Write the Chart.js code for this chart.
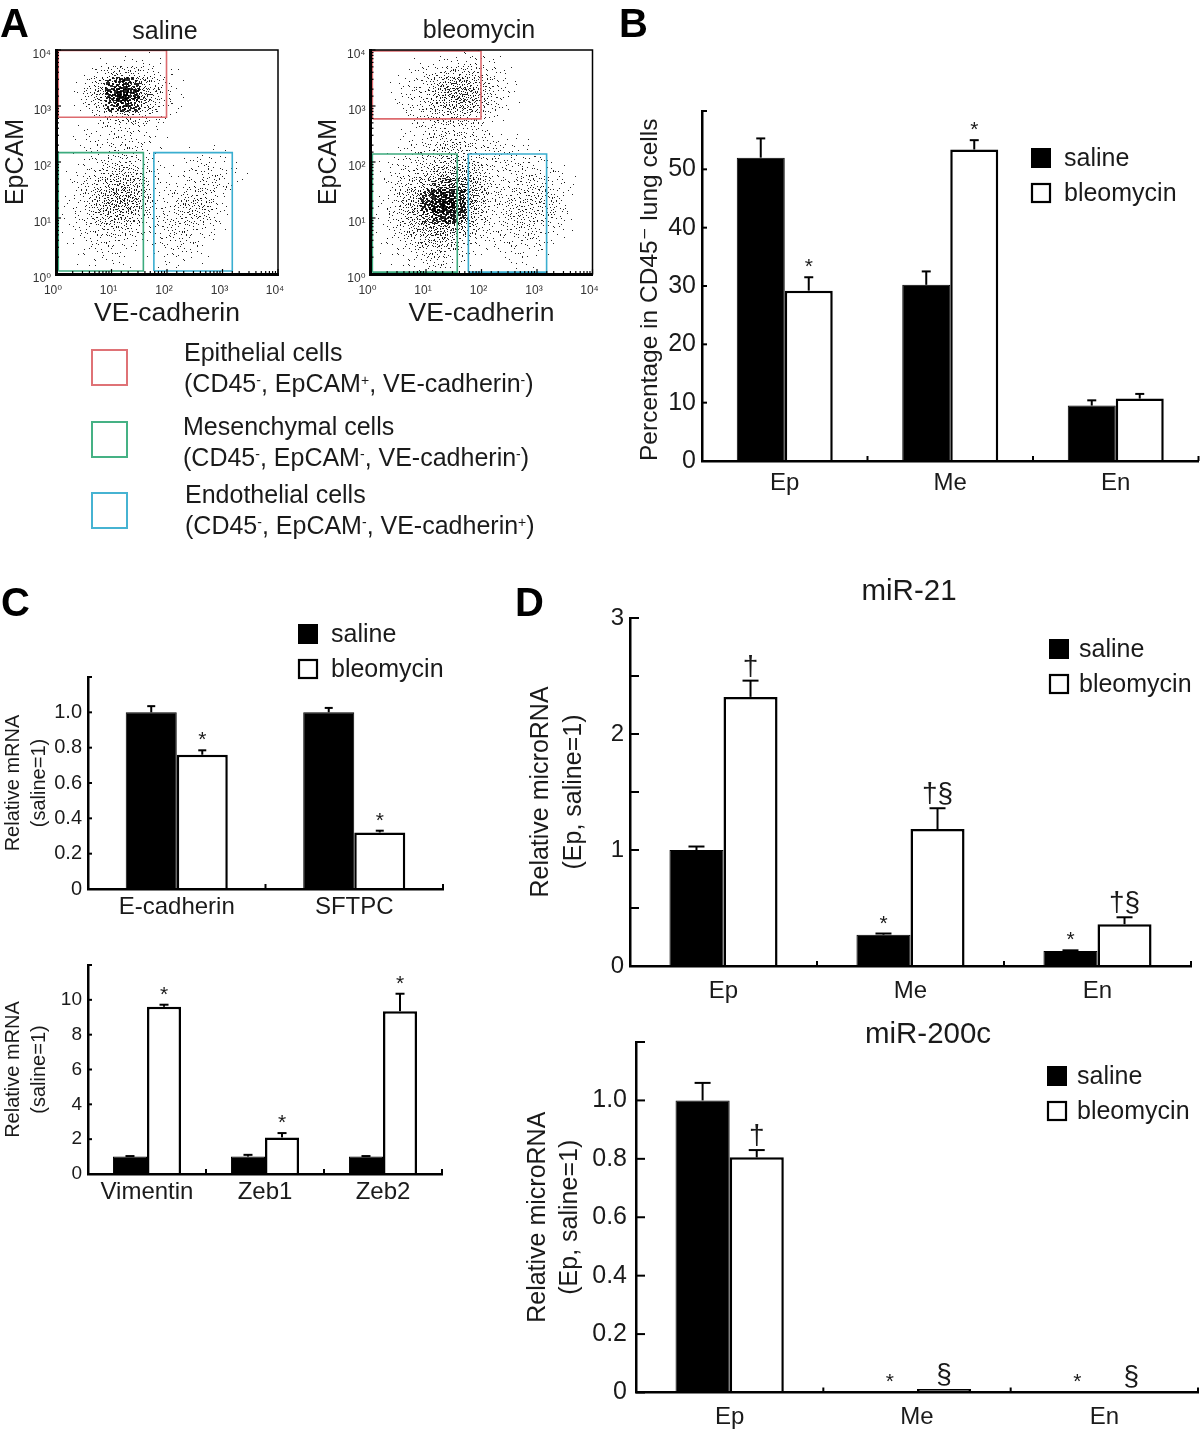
<!DOCTYPE html>
<html>
<head>
<meta charset="utf-8">
<script src="https://cdn.jsdelivr.net/npm/chart.js@4"></script>
<style>
  html, body { margin: 0; background: #fff; }
  #page { position: relative; width: 1200px; height: 1429px; overflow: hidden; font-family: "Liberation Sans", "DejaVu Sans", sans-serif; color: #1a1a1a; }
  canvas { position: absolute; left: 0; top: 0; }
  .letter { position: absolute; font-weight: bold; font-size: 40px; line-height: 40px; color: #000; }
  .cell { position: absolute; font-size: 25px; line-height: 31px; white-space: nowrap; }
  .cell sup { font-size: 14px; line-height: 0; vertical-align: 7px; }
  .gate { position: absolute; width: 33px; height: 33px; border: 2px solid; }
</style>
</head>
<body>
<div id="page">
  <canvas id="flowSaline" width="1200" height="1429"></canvas>
  <canvas id="flowBleomycin" width="1200" height="1429"></canvas>
  <canvas id="panelB" width="1200" height="1429"></canvas>
  <canvas id="panelC1" width="1200" height="1429"></canvas>
  <canvas id="panelC2" width="1200" height="1429"></canvas>
  <canvas id="panelD1" width="1200" height="1429"></canvas>
  <canvas id="panelD2" width="1200" height="1429"></canvas>

  <div class="letter" style="left:0;top:3px">A</div>
  <div class="letter" style="left:619px;top:3px">B</div>
  <div class="letter" style="left:1px;top:582px">C</div>
  <div class="letter" style="left:515px;top:582px">D</div>

  <div class="gate" style="left:91px;top:349px;border-color:#df7276"></div>
  <div class="cell" style="left:184px;top:337px">Epithelial cells<br>(CD45<sup>-</sup>, EpCAM<sup>+</sup>, VE-cadherin<sup>-</sup>)</div>
  <div class="gate" style="left:91px;top:421px;border-color:#45b184"></div>
  <div class="cell" style="left:183px;top:411px">Mesenchymal cells<br>(CD45<sup>-</sup>, EpCAM<sup>-</sup>, VE-cadherin<sup>-</sup>)</div>
  <div class="gate" style="left:91px;top:492px;border-color:#46b3d2"></div>
  <div class="cell" style="left:185px;top:479px">Endothelial cells<br>(CD45<sup>-</sup>, EpCAM<sup>-</sup>, VE-cadherin<sup>+</sup>)</div>
</div>

<script>
const FONT = '"Liberation Sans", "DejaVu Sans", sans-serif';
const INK = "#1a1a1a";

const seriesNames = ["saline", "bleomycin"];
const microCategories = ["Ep", "Me", "En"];

// panel B
const bSaline = [52, 30.2, 9.5];
const bBleomycin = [29.2, 53.4, 10.7];
const bSalineTop = [55.3, 32.5, 10.4];
const bBleomycinTop = [31.5, 55, 11.5];
const bSalineMarks = ["", "", ""];
const bBleomycinMarks = ["*", "*", ""];
const bYLabels = ["0", "10", "20", "30", "40", "50", ""];

// panel C, upper
const c1Categories = ["E-cadherin", "SFTPC"];
const c1Saline = [1, 1];
const c1Bleomycin = [0.76, 0.32];
const c1SalineTop = [1.035, 1.025];
const c1BleomycinTop = [0.785, 0.33];
const c1SalineMarks = ["", ""];
const c1BleomycinMarks = ["*", "*"];
const c1YLabels = ["0", "0.2", "0.4", "0.6", "0.8", "1.0", ""];

// panel C, lower
const c2Categories = ["Vimentin", "Zeb1", "Zeb2"];
const c2Saline = [1, 1, 1];
const c2Bleomycin = [9.6, 2.1, 9.35];
const c2SalineTop = [1.03, 1.1, 1.03];
const c2BleomycinTop = [9.72, 2.35, 10.35];
const c2SalineMarks = ["", "", ""];
const c2BleomycinMarks = ["*", "*", "*"];
const c2YLabels = ["0", "2", "4", "6", "8", "10", ""];

// panel D, miR-21
const d1Saline = [1, 0.27, 0.13];
const d1Bleomycin = [2.32, 1.18, 0.36];
const d1SalineTop = [1.03, 0.28, 0.135];
const d1BleomycinTop = [2.46, 1.36, 0.42];
const d1SalineMarks = ["", "*", "*"];
const d1BleomycinMarks = ["†", "†§", "†§"];
const d1YLabels = ["0", "", "1", "", "2", "", "3"];

// panel D, miR-200c
const d2Saline = [1, 0.002, 0.001];
const d2Bleomycin = [0.805, 0.012, 0.004];
const d2SalineTop = [1.06, 0.002, 0.001];
const d2BleomycinTop = [0.83, 0.012, 0.004];
const d2SalineMarks = ["", "*", "*"];
const d2BleomycinMarks = ["†", "§", "§"];
const d2YLabels = ["0", "0.2", "0.4", "0.6", "0.8", "1.0", ""];

// panel A: gates as [xMin, xMax, yMin, yMax]
const salineEpGate = [1.1, 98, 630, 9800];
const salineMeGate = [1.1, 37.5, 1.13, 147];
const salineEnGate = [58, 1500, 1.13, 147];
const bleoEpGate = [1.08, 98, 590, 9600];
const bleoMeGate = [1.08, 36.6, 1.08, 139];
const bleoEnGate = [58, 1490, 1.08, 139];

// panel A: cell density by eye, 0-9, on a 0.2-decade grid. First row is the
// top of the plot (10^3.8 to 10^4), first column starts at 10^0.
const salineDensity = [
  "00000000100000000000",
  "00001111110000000000",
  "00024664321000000000",
  "00247997531000000000",
  "00246997531000000000",
  "00013565321000000000",
  "00011221100000000000",
  "00112222100000000000",
  "00112222110000000000",
  "00112332100011100000",
  "00123443210122210000",
  "01234554210123321000",
  "01235665211233200000",
  "01246776212344200000",
  "01246664123454200000",
  "01234443123332100000",
  "01123321133221000000",
  "00112210112211000000",
  "00111110011110000000",
  "00001000001000000000",
];
const bleoDensity = [
  "00000000111000000000",
  "00001122232100000000",
  "00012345543210000000",
  "00123467754210000000",
  "00123467764210000000",
  "00012455543100000000",
  "00011233221000000000",
  "00012233321000000000",
  "00012334432211000000",
  "00122344433322100000",
  "01233455543122321000",
  "01234567653123332100",
  "01245788764223342100",
  "01357999763234443100",
  "01356899752234443100",
  "01346777641233332100",
  "01235665431223321000",
  "01123443211112210000",
  "00112332100011100000",
  "00011221000001000000",
];
const decadeLabels = ["10⁰", "10¹", "10²", "10³", "10⁴"];

// stipple used to show a density level, one offset per speck
const speckOffsets = [
  [17,3],[5,19],[11,8],[22,14],[2,6],[14,21],[8,1],[19,10],[0,16],[12,13],
  [6,9],[20,2],[3,22],[16,17],[9,5],[23,7],[1,11],[13,0],[7,15],[18,20],
  [10,23],[4,3],[21,18],[15,6],[2,18],[11,2],[19,14],[6,12],[14,9],[23,22],
  [0,4],[9,18],[17,7],[4,14],[12,20],[21,4],[7,0],[16,12],[3,8],[20,9],
  [13,16],[1,20],[18,1],[8,11],[22,19],[5,6],[15,23],[10,4],[19,17],[2,13],
  [12,6],[6,21],[23,11],[9,14],[16,3],[0,9],[14,18],[4,17],[21,21],[11,11],
];
const specksPerLevel = [0, 4, 8, 13, 20, 28, 38, 50, 60, 60];

function makeSprite(level, variant) {
  const sprite = document.createElement("canvas");
  sprite.width = 24;
  sprite.height = 24;
  const ctx = sprite.getContext("2d");
  ctx.fillStyle = "rgba(0,0,0,0.85)";
  for (const [a, b] of speckOffsets.slice(0, specksPerLevel[level])) {
    const p = variant & 4 ? b : a;
    const q = variant & 4 ? a : b;
    const x = variant & 1 ? 23 - p : p;
    const y = variant & 2 ? 23 - q : q;
    ctx.fillRect(x, y, level >= 8 ? 2 : 1, level === 9 ? 2 : 1);
  }
  return sprite;
}

const sprites = specksPerLevel.map((_, level) => [0, 1, 2, 3, 4, 5, 6, 7].map((v) => makeSprite(level, v)));

function densityPoints(rows) {
  const points = [];
  rows.forEach((row, r) => {
    [...row].forEach((digit, c) => {
      if (digit !== "0") {
        points.push({ x: 10 ** (c * 0.2 + 0.1), y: 10 ** (3.9 - r * 0.2), level: Number(digit), variant: (c * 3 + r * 5) % 8 });
      }
    });
  });
  return points;
}

function gateDataset(gate, color) {
  const [x0, x1, y0, y1] = gate;
  return {
    type: "scatter",
    showLine: true,
    data: [{ x: x0, y: y0 }, { x: x0, y: y1 }, { x: x1, y: y1 }, { x: x1, y: y0 }, { x: x0, y: y0 }],
    borderColor: color,
    borderWidth: 1.6,
    pointRadius: 0,
    tension: 0,
    order: 0,
  };
}

function line(ctx, x0, y0, x1, y1) {
  ctx.beginPath();
  ctx.moveTo(x0, y0);
  ctx.lineTo(x1, y1);
  ctx.stroke();
}

function flowChart(id, cfg) {
  const decor = {
    id: "flowDecor",
    beforeDatasetsDraw(chart) {
      chart.ctx.imageSmoothingEnabled = false;
    },
    afterDatasetsDraw(chart) {
      const { ctx, chartArea: area, scales } = chart;
      ctx.save();
      ctx.strokeStyle = "#000";
      ctx.lineWidth = 1.5;
      ctx.strokeRect(area.left, area.top, area.right - area.left, area.bottom - area.top);
      ctx.lineWidth = 1.2;
      for (const t of scales.x.ticks) {
        const major = Number.isInteger(Math.round(Math.log10(t.value) * 1e6) / 1e6);
        const px = scales.x.getPixelForValue(t.value);
        line(ctx, px, area.bottom, px, area.bottom - (major ? 5 : 3));
      }
      for (const t of scales.y.ticks) {
        const major = Number.isInteger(Math.round(Math.log10(t.value) * 1e6) / 1e6);
        const py = scales.y.getPixelForValue(t.value);
        line(ctx, area.left, py, area.left + (major ? 5 : 3), py);
      }
      ctx.fillStyle = INK;
      ctx.font = `25px ${FONT}`;
      ctx.textAlign = "center";
      ctx.textBaseline = "middle";
      ctx.fillText(cfg.title, cfg.titleX, cfg.titleY);
      ctx.restore();
    },
  };
  const tickLabel = (value) => {
    const exp = Math.log10(value);
    return Math.abs(exp - Math.round(exp)) < 1e-6 ? decadeLabels[Math.round(exp)] : "";
  };
  new Chart(document.getElementById(id), {
    type: "scatter",
    data: {
      datasets: [
        gateDataset(cfg.gates[0], "#dd6a6e"),
        gateDataset(cfg.gates[1], "#3dab7e"),
        gateDataset(cfg.gates[2], "#3aaed0"),
        {
          data: densityPoints(cfg.rows),
          pointRadius: 1,
          pointStyle: (c) => (c.raw ? sprites[c.raw.level][c.raw.variant] : "circle"),
          order: 1,
        },
      ],
    },
    options: {
      responsive: false,
      animation: false,
      events: [],
      layout: { padding: { left: cfg.titleLeft, top: cfg.top, right: 1200 - cfg.right, bottom: 1429 - cfg.bottom - 55 } },
      plugins: { legend: { display: false }, tooltip: { enabled: false } },
      scales: {
        x: {
          type: "logarithmic",
          min: 1,
          max: 10000,
          afterFit: (s) => { s.height = 55; },
          grid: { display: false, drawTicks: false },
          border: { display: true, color: "#000", width: 3, z: 1 },
          ticks: { color: "#333", autoSkip: false, maxRotation: 0, padding: 9, labelOffset: -3, font: { family: FONT, size: 12 }, callback: tickLabel },
          title: { display: true, text: "VE-cadherin", color: INK, padding: 0, font: { family: FONT, size: 26.5, lineHeight: "30px" } },
        },
        y: {
          type: "logarithmic",
          min: 1,
          max: 10000,
          afterFit: (s) => { s.width = cfg.left - cfg.titleLeft; },
          grid: { display: false, drawTicks: false },
          border: { display: true, color: "#000", width: 3, z: 1 },
          ticks: { color: "#333", autoSkip: false, padding: 5, labelOffset: 5, font: { family: FONT, size: 12 }, callback: tickLabel },
          title: { display: true, text: "EpCAM", color: INK, padding: 0, font: { family: FONT, size: 25, lineHeight: "30px" } },
        },
      },
    },
    plugins: [decor],
  });
}

function barChart(id, cfg) {
  const decor = {
    id: "barDecor",
    afterDatasetsDraw(chart) {
      const { ctx, chartArea: area, scales } = chart;
      ctx.save();
      ctx.strokeStyle = "#000";
      ctx.lineWidth = 2;
      for (const t of scales.y.ticks) {
        const py = scales.y.getPixelForValue(t.value);
        line(ctx, area.left, py, area.left + cfg.tick, py);
      }
      cfg.categories.forEach((_, i) => {
        const px = scales.x.getPixelForValue(i + 0.5);
        line(ctx, px, area.bottom, px, area.bottom - 5);
      });
      [[cfg.salineTop, cfg.salineMarks], [cfg.bleomycinTop, cfg.bleomycinMarks]].forEach(([tops, marks], d) => {
        chart.getDatasetMeta(d).data.forEach((bar, i) => {
          const py = scales.y.getPixelForValue(tops[i]);
          if (bar.y - py > 0.5) {
            line(ctx, bar.x, bar.y, bar.x, py);
            line(ctx, bar.x - cfg.cap / 2, py, bar.x + cfg.cap / 2, py);
          }
          if (marks[i]) {
            const star = marks[i] === "*";
            ctx.fillStyle = INK;
            ctx.font = `${star ? 21 : 28}px ${FONT}`;
            ctx.textAlign = "center";
            ctx.textBaseline = "alphabetic";
            ctx.fillText(marks[i], bar.x, py - (star ? 4 : 6));
          }
        });
      });
      if (cfg.legend) {
        const { x, y, gap, textX } = cfg.legend;
        ctx.font = `25px ${FONT}`;
        ctx.textAlign = "left";
        ctx.textBaseline = "middle";
        seriesNames.forEach((name, i) => {
          const top = y + i * gap;
          if (i === 0) {
            ctx.fillStyle = "#000";
            ctx.fillRect(x, top, 20, 20);
          } else {
            ctx.lineWidth = 2.2;
            ctx.strokeRect(x + 1, top + 1, 18, 18);
          }
          ctx.fillStyle = INK;
          ctx.fillText(name, textX, top + 11.5);
        });
      }
      if (cfg.title) {
        ctx.fillStyle = INK;
        ctx.font = `29.5px ${FONT}`;
        ctx.textAlign = "center";
        ctx.textBaseline = "middle";
        ctx.fillText(cfg.title, cfg.titleX, cfg.titleY);
      }
      ctx.restore();
    },
  };
  new Chart(document.getElementById(id), {
    type: "bar",
    data: {
      labels: cfg.categories,
      datasets: [
        { label: seriesNames[0], data: cfg.saline, backgroundColor: "#000", borderColor: "#000", borderWidth: 1 },
        { label: seriesNames[1], data: cfg.bleomycin, backgroundColor: "#fff", borderColor: "#000", borderWidth: 2.5 },
      ],
    },
    options: {
      responsive: false,
      animation: false,
      events: [],
      layout: { padding: { left: cfg.yTitleLeft, top: cfg.top, right: 1200 - cfg.right, bottom: 1429 - cfg.bottom - 50 } },
      plugins: { legend: { display: false }, tooltip: { enabled: false } },
      datasets: { bar: { categoryPercentage: cfg.groupShare, barPercentage: 1 } },
      scales: {
        x: {
          afterFit: (s) => { s.height = 50; },
          grid: { display: false, drawTicks: false },
          border: { display: true, color: "#000", width: 2.5, z: 1 },
          ticks: { color: INK, maxRotation: 0, padding: cfg.xPad, font: { family: FONT, size: cfg.xFont } },
        },
        y: {
          min: 0,
          max: cfg.yMax,
          afterFit: (s) => { s.width = cfg.left - cfg.yTitleLeft; },
          grid: { display: false, drawTicks: false },
          border: { display: true, color: "#000", width: 2.5, z: 1 },
          ticks: {
            color: INK,
            stepSize: cfg.yStep,
            autoSkip: false,
            padding: cfg.yPad,
            font: { family: FONT, size: cfg.yFont },
            callback: (value, i) => cfg.yLabels[i],
          },
          title: {
            display: true,
            text: cfg.yTitle,
            align: cfg.titleAlign || "center",
            color: INK,
            padding: 0,
            font: { family: FONT, size: cfg.titleFont, lineHeight: cfg.titleLine + "px" },
          },
        },
      },
    },
    plugins: [decor],
  });
}

flowChart("flowSaline", {
  left: 56, right: 278, top: 50, bottom: 274, titleLeft: 1,
  rows: salineDensity, gates: [salineEpGate, salineMeGate, salineEnGate],
  title: "saline", titleX: 165, titleY: 32,
});
flowChart("flowBleomycin", {
  left: 370.5, right: 592.5, top: 50, bottom: 274, titleLeft: 314,
  rows: bleoDensity, gates: [bleoEpGate, bleoMeGate, bleoEnGate],
  title: "bleomycin", titleX: 479, titleY: 31,
});

barChart("panelB", {
  left: 702, right: 1198.5, top: 111, bottom: 461, yTitleLeft: 635,
  categories: microCategories, saline: bSaline, bleomycin: bBleomycin,
  salineTop: bSalineTop, bleomycinTop: bBleomycinTop, salineMarks: bSalineMarks, bleomycinMarks: bBleomycinMarks,
  yMax: 60, yStep: 10, yLabels: bYLabels, groupShare: 0.58,
  yTitle: "Percentage in CD45⁻ lung cells", titleFont: 24.5, titleLine: 30, titleAlign: "start",
  xFont: 24, yFont: 25, xPad: 8, yPad: 6, tick: 5, cap: 9,
  legend: { x: 1031, y: 148, gap: 35, textX: 1064 },
});
barChart("panelC1", {
  left: 88, right: 443, top: 677, bottom: 889, yTitleLeft: 0,
  categories: c1Categories, saline: c1Saline, bleomycin: c1Bleomycin,
  salineTop: c1SalineTop, bleomycinTop: c1BleomycinTop, salineMarks: c1SalineMarks, bleomycinMarks: c1BleomycinMarks,
  yMax: 1.2, yStep: 0.2, yLabels: c1YLabels, groupShare: 0.575,
  yTitle: ["Relative mRNA", "(saline=1)"], titleFont: 20, titleLine: 26,
  xFont: 24, yFont: 20, xPad: 4, yPad: 6, tick: 4, cap: 8,
  legend: { x: 298, y: 624, gap: 35, textX: 331 },
});
barChart("panelC2", {
  left: 88, right: 442, top: 965, bottom: 1174, yTitleLeft: 0,
  categories: c2Categories, saline: c2Saline, bleomycin: c2Bleomycin,
  salineTop: c2SalineTop, bleomycinTop: c2BleomycinTop, salineMarks: c2SalineMarks, bleomycinMarks: c2BleomycinMarks,
  yMax: 12, yStep: 2, yLabels: c2YLabels, groupShare: 0.577,
  yTitle: ["Relative mRNA", "(saline=1)"], titleFont: 20, titleLine: 26,
  xFont: 24, yFont: 19, xPad: 4, yPad: 6, tick: 4, cap: 9,
});
barChart("panelD1", {
  left: 630, right: 1191, top: 618, bottom: 966, yTitleLeft: 525,
  categories: microCategories, saline: d1Saline, bleomycin: d1Bleomycin,
  salineTop: d1SalineTop, bleomycinTop: d1BleomycinTop, salineMarks: d1SalineMarks, bleomycinMarks: d1BleomycinMarks,
  yMax: 3, yStep: 0.5, yLabels: d1YLabels, groupShare: 0.578,
  yTitle: ["Relative microRNA", "(Ep, saline=1)"], titleFont: 25, titleLine: 33,
  xFont: 24, yFont: 24, xPad: 11, yPad: 6, tick: 9, cap: 16,
  legend: { x: 1049, y: 639, gap: 35, textX: 1079 },
  title: "miR-21", titleX: 909, titleY: 592,
});
barChart("panelD2", {
  left: 636, right: 1198, top: 1042, bottom: 1392.5, yTitleLeft: 522,
  categories: microCategories, saline: d2Saline, bleomycin: d2Bleomycin,
  salineTop: d2SalineTop, bleomycinTop: d2BleomycinTop, salineMarks: d2SalineMarks, bleomycinMarks: d2BleomycinMarks,
  yMax: 1.2, yStep: 0.2, yLabels: d2YLabels, groupShare: 0.578,
  yTitle: ["Relative microRNA", "(Ep, saline=1)"], titleFont: 25, titleLine: 32,
  xFont: 24, yFont: 25, xPad: 10, yPad: 9, tick: 9, cap: 16,
  legend: { x: 1047, y: 1066, gap: 35, textX: 1077 },
  title: "miR-200c", titleX: 928, titleY: 1035,
});
</script>
</body>
</html>
